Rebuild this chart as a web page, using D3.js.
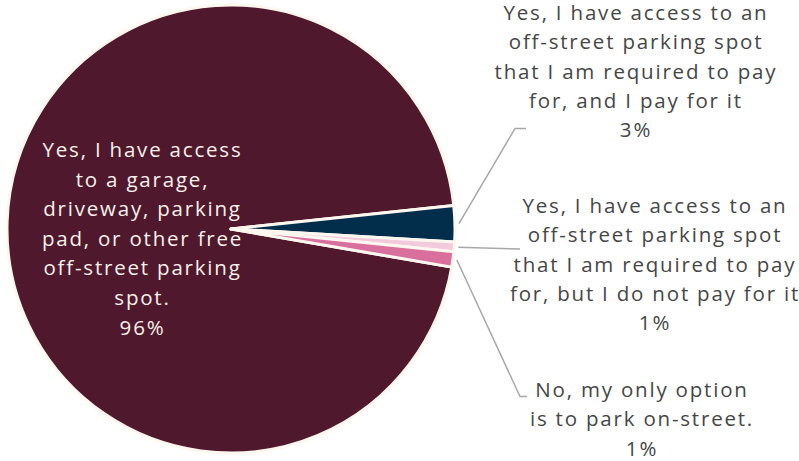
<!DOCTYPE html>
<html>
<head>
<meta charset="utf-8">
<script src="https://cdn.jsdelivr.net/npm/d3@7"></script>
<style>
  html, body { margin: 0; padding: 0; background: #ffffff; }
  svg { display: block; }
  text { font-family: "Open Sans", sans-serif; letter-spacing: 1.8px; }
</style>
</head>
<body>
<svg id="chart" width="799" height="461"></svg>
<script>
// Survey answers: access to off-street parking
const categories = [
  ["Yes, I have access", "to a garage,", "driveway, parking", "pad, or other free", "off-street parking", "spot."],
  ["Yes, I have access to an", "off-street parking spot", "that I am required to pay", "for, and I pay for it"],
  ["Yes, I have access to an", "off-street parking spot", "that I am required to pay", "for, but I do not pay for it"],
  ["No, my only option", "is to park on-street."]
];
const values = [95.6, 2.6, 0.7, 1.1];
const colors = ["#4f182d", "#022d4b", "#f3c9dc", "#d86f9c"];

const width = 799, height = 461;
const cx = 231, cy = 229, radius = 224;
const fmt = v => d3.format(".0f")(v) + "%";

const svg = d3.select("#chart");
const g = svg.append("g").attr("transform", `translate(${cx},${cy})`);

const start = 99.8 * Math.PI / 180;
const pie = d3.pie().sort(null).value(d => d)
  .startAngle(start).endAngle(start + 2 * Math.PI);
const arcs = pie(values);
const arc = d3.arc().innerRadius(0).outerRadius(radius);

g.selectAll("path.slice")
  .data(arcs)
  .join("path")
  .attr("class", "slice")
  .attr("d", arc)
  .attr("fill", (d, i) => colors[i])
  .attr("stroke", "#fdf7f0")
  .attr("stroke-width", 3)
  .attr("stroke-linejoin", "round");

// Label inside the large slice
const inside = g.append("text")
  .attr("fill", "#f8f1ea")
  .attr("font-size", 20.5)
  .attr("text-anchor", "middle");
const insideLines = categories[0].concat([fmt(values[0])]);
insideLines.forEach((t, j) => {
  inside.append("tspan")
    .attr("x", 142.5 - cx)
    .attr("y", 157 - cy + j * 29.6)
    .text(t);
});

// Outside labels with leader lines for the small slices
const outside = [
  { i: 1, tx: 636, ty: 20, elbow: [515, 128.5], end: [526, 128.5] },
  { i: 2, tx: 655, ty: 213, elbow: [520, 249], end: [520, 249] },
  { i: 3, tx: 642, ty: 397, elbow: [520, 396.5], end: [527, 396.5] }
];
const outerArc = d3.arc().innerRadius(radius + 4).outerRadius(radius + 4);

outside.forEach(o => {
  const a = arcs[o.i];
  const p = outerArc.centroid(a);
  const pts = [[p[0] + cx, p[1] + cy], o.elbow, o.end];
  svg.append("path")
    .attr("d", d3.line()(pts))
    .attr("fill", "none")
    .attr("stroke", "#a8a8a8")
    .attr("stroke-width", 1.5);
  const t = svg.append("text")
    .attr("fill", "#464646")
    .attr("font-size", 20.5)
    .attr("text-anchor", "middle");
  categories[o.i].concat([fmt(values[o.i])]).forEach((s, j) => {
    t.append("tspan")
      .attr("x", o.tx)
      .attr("y", o.ty + j * 29.3)
      .text(s);
  });
});
</script>
</body>
</html>
